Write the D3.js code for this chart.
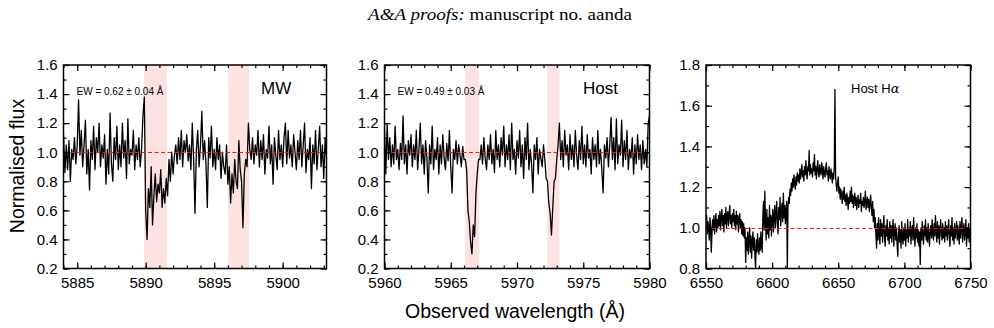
<!DOCTYPE html>
<html><head><meta charset="utf-8">
<script src="https://cdn.jsdelivr.net/npm/d3@7"></script>
<style>
body{margin:0;background:#fff;}
svg{display:block;font-family:"Liberation Sans",Arial,sans-serif;}
</style></head><body>
<svg id="c" width="994" height="328"></svg>
<script>
// ---------- DATA ----------
// Panel 1 (MW Na I D): start 5884.0 Å, step 0.1 Å
const mwStart = 5884.0, mwStep = 0.1;
const mwFlux = [
1.12,0.86,1.05,0.88,1.08,0.80,1.02,0.95,1.10,0.92,1.05,
1.36,0.98,1.15,0.90,1.05,1.22,0.85,1.02,0.74,1.08,
0.95,1.18,0.88,1.10,1.00,1.20,0.90,1.05,0.96,1.12,
0.78,1.02,0.85,1.27,0.92,0.80,1.10,0.95,1.18,0.88,
1.05,0.90,1.20,0.96,1.08,0.82,1.23,0.92,1.02,0.98,
1.15,0.88,1.05,0.95,1.10,0.90,1.02,1.25,1.38,0.60,0.40,
0.75,0.62,0.90,0.50,0.70,0.85,0.66,0.78,0.72,0.88,
0.62,0.75,0.65,0.82,0.70,0.95,0.80,1.00,0.85,0.98,
1.05,0.92,1.10,0.95,1.15,0.90,1.08,1.00,1.12,0.94,
1.05,0.88,1.20,0.95,0.58,1.02,1.15,0.90,1.05,1.28,
0.95,1.08,0.92,0.62,1.10,0.96,1.18,0.90,1.02,0.88,
1.10,0.95,1.05,0.82,1.00,0.90,0.85,1.05,0.78,0.90,
0.65,0.85,0.72,0.95,0.80,0.75,1.08,0.88,0.80,0.48,
0.85,0.95,0.90,1.20,1.02,0.95,1.10,0.92,1.05,0.98,
1.15,0.90,1.08,0.95,1.12,0.85,1.02,0.96,1.18,0.92,
1.05,0.78,1.10,0.98,0.88,1.15,0.95,1.05,0.90,1.10,
1.20,0.92,1.15,0.96,1.05,0.90,1.12,1.00,0.88,1.08,
0.95,1.15,0.90,1.05,1.20,0.86,1.02,0.95,1.10,0.75,
1.05,0.92,1.15,0.88,1.02,1.18,0.90,1.05,0.82,1.10,0.95,1.00
];
// Panel 2 (Host Na I D): start 5960.0 Å, step 0.1 Å
const hostStart = 5960.0, hostStep = 0.1;
const hostFlux = [
1.15,0.85,1.20,0.95,1.10,0.90,1.05,0.92,1.18,0.95,1.02,
0.88,1.06,0.95,1.25,0.92,1.05,0.85,1.08,0.98,1.12,
0.90,1.05,0.95,1.15,0.88,1.02,1.20,0.92,1.05,0.85,
1.08,0.96,0.72,1.05,0.92,1.18,0.88,1.02,0.95,1.10,
0.85,1.05,0.92,1.12,0.96,0.88,1.06,0.94,1.15,0.90,
0.72,1.02,0.95,1.08,0.92,1.05,0.98,0.90,1.04,0.95,
0.95,0.88,0.60,0.52,0.38,0.30,0.50,0.42,0.72,0.85,
0.95,0.95,1.05,0.92,1.10,0.96,0.88,1.05,0.95,1.12,
0.92,1.02,0.86,1.15,0.95,1.05,0.90,1.10,0.98,1.18,
0.90,1.05,0.95,1.12,0.88,1.20,0.95,1.02,0.85,1.08,
0.96,1.15,0.90,1.05,0.82,1.10,0.95,1.20,0.88,1.02,
0.92,0.72,1.05,0.95,1.10,0.85,1.02,0.96,0.90,1.05,
0.95,0.82,0.80,0.65,0.58,0.43,0.62,0.80,0.82,0.95,
1.05,1.20,0.95,1.08,0.90,1.15,0.98,1.05,0.88,1.12,
0.95,1.05,0.90,1.15,0.98,0.88,1.08,0.95,1.18,0.92,
1.05,0.90,1.12,0.96,1.02,0.85,1.10,0.95,1.05,0.90,
1.15,0.92,1.02,0.88,0.72,1.05,0.96,1.10,0.90,1.05,
1.24,0.95,1.10,0.88,1.23,0.92,1.05,0.98,1.22,0.90,
1.08,0.95,1.15,0.88,1.02,0.96,1.10,0.85,1.05,0.92,
1.12,0.95,1.05,0.88,1.08,0.92,1.02,0.90,1.20,1.25
];
// Panel 3 (Host H-alpha): start 6550 Å, step 0.5 Å
const haStart = 6550, haStep = 0.5;
const haFlux = [
1.04,1.06,0.97,1.03,1.00,0.94,1.05,1.01,0.88,0.97,1.04,0.99,1.06,0.97,1.03,1.07,0.98,1.04,1.00,1.06,
1.01,1.08,0.99,1.05,1.09,1.01,1.06,0.98,1.07,1.02,1.10,1.00,1.06,1.08,1.01,1.07,1.11,1.02,1.06,1.00,
1.07,1.03,1.09,1.01,1.06,0.99,1.08,1.02,1.06,0.98,1.05,1.07,1.00,1.04,0.97,1.03,0.96,1.02,0.95,1.00,
0.83,0.95,0.89,0.98,0.87,0.94,1.00,0.88,0.96,0.85,0.93,0.98,0.89,0.95,0.86,0.80,0.94,0.88,0.97,0.90,
0.87,0.95,0.89,0.98,0.91,0.88,1.06,1.13,0.99,1.18,1.03,0.94,1.09,0.97,1.05,0.95,1.11,0.99,1.06,0.96,
1.04,1.09,0.98,1.06,1.11,1.00,1.07,1.13,1.02,0.97,1.10,1.04,1.15,1.01,1.08,1.12,1.03,1.17,1.05,1.11,
1.02,1.09,1.13,0.80,1.10,1.15,1.12,1.19,1.16,1.22,1.18,1.24,1.20,1.26,1.22,1.19,1.25,1.21,1.27,1.23,
1.26,1.22,1.29,1.24,1.27,1.31,1.25,1.28,1.23,1.30,1.26,1.33,1.27,1.24,1.30,1.28,1.38,1.26,1.31,1.27,
1.29,1.25,1.32,1.28,1.36,1.26,1.30,1.24,1.29,1.33,1.27,1.25,1.31,1.28,1.26,1.32,1.29,1.24,1.30,1.27,
1.25,1.29,1.32,1.26,1.28,1.23,1.30,1.27,1.24,1.29,1.26,1.22,1.27,1.24,1.30,1.68,1.25,1.21,1.18,1.22,
1.25,1.17,1.20,1.14,1.19,1.16,1.12,1.18,1.14,1.20,1.13,1.16,1.11,1.17,1.14,1.09,1.15,1.12,1.18,1.13,
1.20,1.12,1.16,1.10,1.14,1.17,1.11,1.15,1.09,1.13,1.16,1.10,1.14,1.12,1.17,1.08,1.13,1.11,1.15,1.10,
1.13,1.18,1.09,1.12,1.15,1.10,1.14,1.08,1.12,1.16,1.10,1.06,1.13,1.03,1.09,1.00,1.05,0.96,0.90,1.02,
0.94,1.05,0.97,0.92,1.04,0.96,1.02,0.93,1.00,1.06,0.95,0.91,1.01,0.96,1.04,0.94,1.00,0.92,1.03,0.95,
1.01,0.93,0.99,1.04,0.91,0.98,1.02,0.94,1.00,0.92,0.86,0.97,1.01,0.93,0.99,0.90,1.03,0.95,0.92,1.00,
0.94,1.02,0.91,0.99,0.95,1.04,0.93,1.00,0.96,1.03,0.92,0.99,1.01,0.94,1.05,0.96,0.91,1.00,0.95,1.02,
0.93,0.99,0.91,0.98,0.82,1.00,0.94,1.03,0.95,0.92,1.01,0.96,1.04,0.94,1.00,0.93,1.02,0.96,0.91,0.99,
1.01,0.95,1.04,0.97,0.94,1.02,0.96,1.06,0.98,0.93,1.03,0.95,1.01,0.92,0.99,1.04,0.96,0.94,1.02,0.95,
1.00,0.93,1.03,0.96,1.01,0.94,0.99,1.04,0.95,0.91,1.01,0.96,1.05,0.94,1.00,0.92,1.02,0.95,0.99,1.03,
0.94,1.01,0.96,0.92,1.03,0.95,1.00,1.05,0.93,0.99,1.02,0.94,0.98,1.04,0.91,1.00,0.95,1.02,0.93,0.99,
1.00
];
// shaded line windows [from, to] in Å
const mwBands = [[5889.88, 5891.55], [5896.0, 5897.55]];
const hostBands = [[5966.1, 5967.15], [5972.28, 5973.2]];
// axis ticks
const mwXTicks = [5885, 5890, 5895, 5900];
const hostXTicks = [5960, 5965, 5970, 5975, 5980];
const haXTicks = [6550, 6600, 6650, 6700, 6750];
const naYTicks = [0.2, 0.4, 0.6, 0.8, 1.0, 1.2, 1.4, 1.6];
const haYTicks = [0.8, 1.0, 1.2, 1.4, 1.6, 1.8];
// labels
const panelLabels = ["MW", "Host", "Host H"];
const ewLabels = ["EW = 0.62 \u00b1 0.04 \u00c5", "EW = 0.49 \u00b1 0.03 \u00c5", null];
const titleItalic = "A&A proofs:";
const titleRoman = " manuscript no. aanda";
const yTitle = "Normalised flux";
const xTitle = "Observed wavelength (\u00c5)";

// ---------- DRAW ----------
const svg = d3.select("#c");
const yTop = 65, yBot = 268.5;

svg.append("text").attr("x", 500).attr("y", 20).attr("text-anchor", "middle")
  .attr("textLength", 264).attr("lengthAdjust", "spacingAndGlyphs")
  .style("font-family", "'Liberation Serif','Times New Roman',serif").style("font-size", "16.5px")
  .call(t => { t.append("tspan").style("font-style", "italic").text(titleItalic);
               t.append("tspan").text(titleRoman); });

const panels = [
  {x0: 63.5, x1: 326.5, xd: [5884.0, 5903.2], yd: [0.2, 1.6], start: mwStart, step: mwStep, flux: mwFlux,
   bands: mwBands, xt: mwXTicks, xm: 1, yt: naYTicks, lab: 0, labX: 261, labSize: 17},
  {x0: 384.5, x1: 649.5, xd: [5960, 5980], yd: [0.2, 1.6], start: hostStart, step: hostStep, flux: hostFlux,
   bands: hostBands, xt: hostXTicks, xm: 1, yt: naYTicks, lab: 1, labX: 583, labSize: 17},
  {x0: 706, x1: 970.5, xd: [6550, 6750], yd: [0.8, 1.8], start: haStart, step: haStep, flux: haFlux,
   bands: [], xt: haXTicks, xm: 10, yt: haYTicks, lab: 2, labX: 851, labSize: 13}
];

panels.forEach((p, pi) => {
  const x = d3.scaleLinear().domain(p.xd).range([p.x0, p.x1]);
  const y = d3.scaleLinear().domain(p.yd).range([yBot, yTop]);
  const g = svg.append("g");
  const cid = "clip" + pi;
  g.append("clipPath").attr("id", cid).append("rect")
    .attr("x", p.x0).attr("y", yTop).attr("width", p.x1 - p.x0).attr("height", yBot - yTop);

  g.selectAll("rect.band").data(p.bands).join("rect").attr("class", "band")
    .attr("x", d => x(d[0])).attr("width", d => x(d[1]) - x(d[0]))
    .attr("y", yTop).attr("height", yBot - yTop).attr("fill", "#fde2e2");

  const pts = p.flux.map((v, i) => [p.start + i * p.step, v]);
  g.append("path").datum(pts).attr("clip-path", `url(#${cid})`)
    .attr("fill", "none").attr("stroke", "#000").attr("stroke-width", 1.3).attr("stroke-linejoin", "round")
    .attr("d", d3.line().x(d => x(d[0])).y(d => y(d[1])));

  const y1 = Math.round(y(1.0)) + 0.5;
  g.append("line").attr("x1", p.x0).attr("x2", p.x1).attr("y1", y1).attr("y2", y1)
    .attr("stroke", "#f01a1a").attr("stroke-width", 1).attr("stroke-dasharray", "4,2.5");

  const xMinor = d3.range(Math.ceil(p.xd[0] / p.xm) * p.xm, p.xd[1] + 1e-6, p.xm);
  const yMinor = d3.range(p.yd[0], p.yd[1] + 1e-6, 0.1).map(v => +v.toFixed(2));
  const ax = (gen, tr) => g.append("g").attr("transform", tr).call(gen)
      .call(s => s.select(".domain").remove())
      .call(s => s.selectAll("line").attr("stroke", "#000").attr("stroke-width", 1.2));
  ax(d3.axisBottom(x).tickValues(xMinor).tickSize(-3).tickFormat(""), `translate(0,${yBot})`);
  ax(d3.axisTop(x).tickValues(xMinor).tickSize(-3).tickFormat(""), `translate(0,${yTop})`);
  ax(d3.axisLeft(y).tickValues(yMinor).tickSize(-3).tickFormat(""), `translate(${p.x0},0)`);
  ax(d3.axisRight(y).tickValues(yMinor).tickSize(-3).tickFormat(""), `translate(${p.x1},0)`);
  const xb = ax(d3.axisBottom(x).tickValues(p.xt).tickSize(-6).tickPadding(9).tickFormat(d3.format("d")), `translate(0,${yBot})`);
  ax(d3.axisTop(x).tickValues(p.xt).tickSize(-6).tickFormat(""), `translate(0,${yTop})`);
  const yl = ax(d3.axisLeft(y).tickValues(p.yt).tickSize(-6).tickPadding(6).tickFormat(d3.format(".1f")), `translate(${p.x0},0)`);
  ax(d3.axisRight(y).tickValues(p.yt).tickSize(-6).tickFormat(""), `translate(${p.x1},0)`);
  [xb, yl].forEach(s => s.selectAll("text").attr("fill", "#000")
     .style("font-family", "'Liberation Sans',Arial,sans-serif").style("font-size", "15px"));

  g.append("rect").attr("x", p.x0).attr("y", yTop).attr("width", p.x1 - p.x0).attr("height", yBot - yTop)
    .attr("fill", "none").attr("stroke", "#000").attr("stroke-width", 1.5);

  const lt = g.append("text").attr("x", p.labX).attr("y", 88).attr("dy", "0.35em")
    .style("font-size", p.labSize + "px").attr("fill", "#000").text(panelLabels[p.lab]);
  if (pi === 2) lt.append("tspan").style("font-style", "italic").style("font-family", "'DejaVu Serif',serif").text("\u03b1");

  if (ewLabels[pi]) g.append("text").attr("x", p.x0 + 13).attr("y", 91).attr("dy", "0.35em")
    .style("font-size", "10px").attr("fill", "#000").text(ewLabels[pi]);
});

svg.append("text").attr("transform", "translate(24,166) rotate(-90)").attr("text-anchor", "middle")
  .style("font-size", "19.5px").attr("fill", "#000").text(yTitle);
svg.append("text").attr("x", 515).attr("y", 318).attr("text-anchor", "middle")
  .style("font-size", "19.5px").attr("fill", "#000").text(xTitle);
</script>
</body></html>
